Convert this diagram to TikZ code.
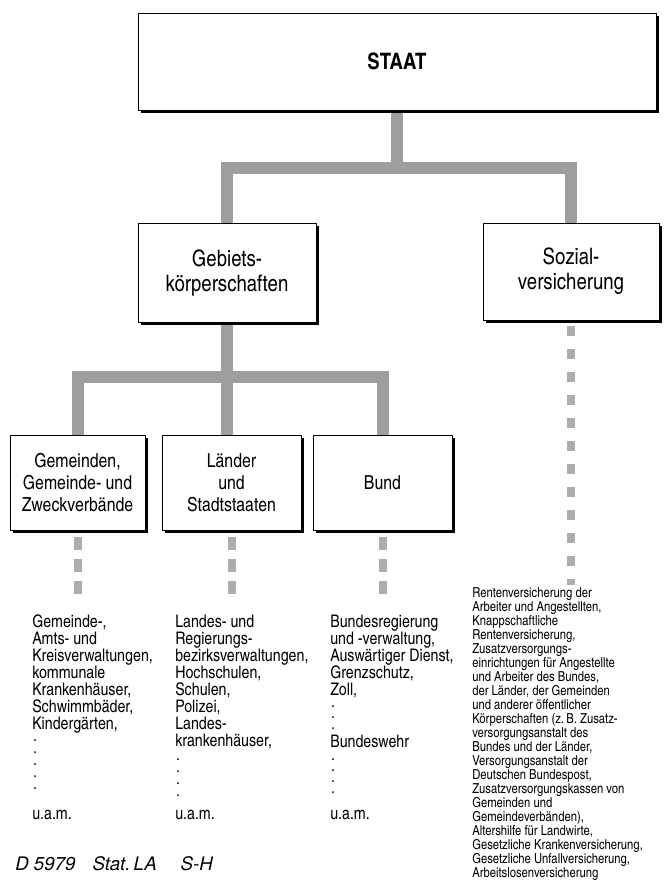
\documentclass[tikz,border=0pt]{standalone}
\usepackage{fontspec}
\setmainfont{texgyreheroscn}[Extension=.otf, UprightFont=*-regular, BoldFont=*-bold, ItalicFont=*-italic]
\newfontfamily\herosit{texgyreheros}[Extension=.otf, UprightFont=*-italic]
\usetikzlibrary{shadows,backgrounds}
\tikzset{
  box/.style={draw, line width=0.7pt, fill=white, inner sep=0pt, align=center,
    general shadow={fill=black, shadow xshift=2.2pt, shadow yshift=-2.2pt}},
  bigfont/.style={font=\fontsize{17}{18.75}\selectfont},
  midfont/.style={font=\fontsize{14.5}{16.5}\selectfont},
  conn/.style={line width=9pt, black!38, line join=miter},
  chainA/.style={line width=6pt, black!32, dash pattern=on 9.5pt off 7pt},
  chainB/.style={line width=6pt, black!32, dash pattern=on 7.5pt off 9.75pt},
  coltext/.style={anchor=north west, inner sep=0pt, align=left, font=\fontsize{13}{12.75}\selectfont},
  colline/.style={anchor=base west, inner sep=0pt, font=\fontsize{13}{12.75}\selectfont},
  smalltext/.style={anchor=north west, inner sep=0pt, align=left, font=\fontsize{10.3}{10.5}\selectfont},
  src/.style={anchor=base west, inner sep=0pt, font=\herosit\fontsize{14}{16}\selectfont},
  vdots/.style={line width=1.5pt, line cap=round, dash pattern=on 0pt off 9pt},
  vdotsB/.style={line width=1.5pt, line cap=round, dash pattern=on 0pt off 8.25pt},
}
\begin{document}
\begin{tikzpicture}[x=0.75pt, y=-0.75pt]
\useasboundingbox (0,0) rectangle (669,890);

% boxes
\node[box, minimum width=388.5pt, minimum height=72.75pt, font=\bfseries\fontsize{17}{20}\selectfont] (staat) at (397,61.5) {STAAT};
\node[box, bigfont, minimum width=133.5pt, minimum height=74.25pt] (gebiets) at (227,272.5) {Gebiets-\\körperschaften};
\node[box, bigfont, minimum width=132pt, minimum height=72.75pt] (sozial) at (571,271.5) {Sozial-\\versicherung};
\node[box, midfont, minimum width=101.25pt, minimum height=71.25pt] (gem) at (77.5,482.5) {Gemeinden,\\Gemeinde- und\\Zweckverbände};
\node[box, midfont, minimum width=104.25pt, minimum height=71.25pt] (laender) at (231.5,482.5) {Länder\\und\\Stadtstaaten};
\node[box, midfont, minimum width=104.25pt, minimum height=71.25pt] (bund) at (382.5,482.5) {Bund};

\coordinate (b1) at (397,168);
\coordinate (b2) at (227,377);
\coordinate (e3) at (0,600);
\coordinate (e4) at (0,585);

\begin{scope}[on background layer]
  \draw[conn] (staat.south) -- (staat.south |- b1) -| (gebiets.north);
  \draw[conn] (staat.south |- b1) -| (sozial.north);
  \draw[conn] (gebiets.south) -- (gebiets.south |- b2) -| (gem.north);
  \draw[conn] (gebiets.south |- b2) -| (bund.north);
  \draw[conn] (gebiets.south |- b2) -- (gebiets.south |- laender.north);
\end{scope}
\draw[chainA] ([yshift=-5pt]gem.south) -- (gem.south |- e3);
\draw[chainA] ([yshift=-5pt]laender.south) -- (laender.south |- e3);
\draw[chainA] ([yshift=-5pt]bund.south) -- (bund.south |- e3);
\draw[chainB] ([yshift=-4pt]sozial.south) -- (sozial.south |- e4);

% column 1
\node[coltext] (c1) at (32,614.6) {Gemeinde-,\\Amts- und\\Kreisverwaltungen,\\kommunale\\Krankenhäuser,\\Schwimmbäder,\\Kindergärten,};
\draw[vdots] (35,740) -- (35,789);
\node[colline] (u1) at (32,819) {u.a.m.};

% column 2
\node[coltext] (c2) at (175,614.6) {Landes- und\\Regierungs-\\bezirksverwaltungen,\\Hochschulen,\\Schulen,\\Polizei,\\Landes-\\krankenhäuser,};
\draw[vdots] (178,759) -- (178,796);
\node[colline] (u2) at (175,819) {u.a.m.};

% column 3
\node[coltext] (c3) at (330,614.6) {Bundesregierung\\und -verwaltung,\\Auswärtiger Dienst,\\Grenzschutz,\\Zoll,};
\draw[vdotsB] (333,706) -- (333,729);
\node[colline] (c3b) at (330,747) {Bundeswehr};
\draw[vdotsB] (333,759) -- (333,793);
\node[colline] (u3) at (330,819) {u.a.m.};

% column 4
\node[smalltext] (c4) at (472,587) {Rentenversicherung der\\Arbeiter und Angestellten,\\Knappschaftliche\\Rentenversicherung,\\Zusatzversorgungs-\\einrichtungen für Angestellte\\und Arbeiter des Bundes,\\der Länder, der Gemeinden\\und anderer öffentlicher\\Körperschaften (z.\,B. Zusatz-\\versorgungsanstalt des\\Bundes und der Länder,\\Versorgungsanstalt der\\Deutschen Bundespost,\\Zusatzversorgungskassen von\\Gemeinden und\\Gemeindeverbänden),\\Altershilfe für Landwirte,\\Gesetzliche Krankenversicherung,\\Gesetzliche Unfallversicherung,\\Arbeitslosenversicherung};

\node[src] (srcnote) at (15,870) {\makebox[58pt][l]{D 5979}\makebox[66pt][l]{Stat.\,LA}S-H};
\end{tikzpicture}
\end{document}
